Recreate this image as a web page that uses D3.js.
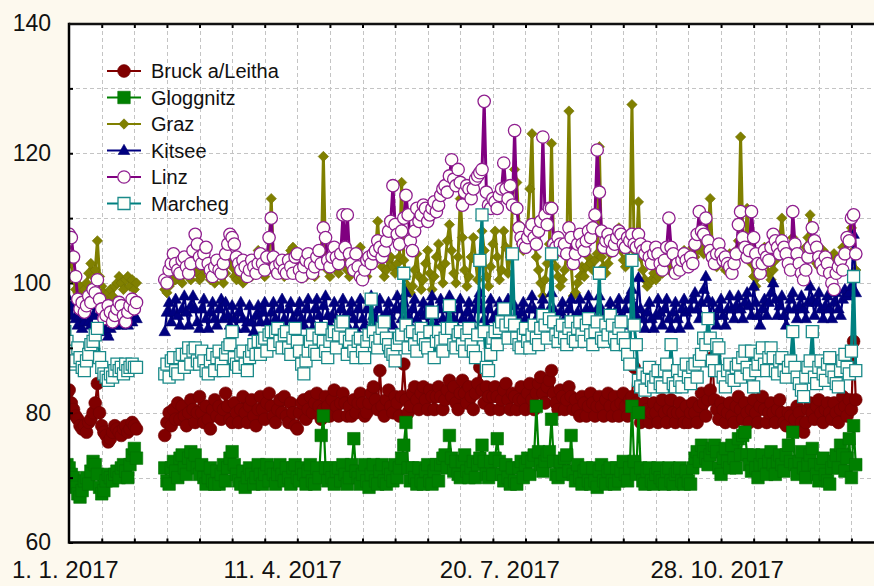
<!DOCTYPE html>
<html><head><meta charset="utf-8">
<script src="https://cdn.jsdelivr.net/npm/d3@7"></script>
<style>html,body{margin:0;padding:0;background:#fdf9ee;}svg{display:block;}</style>
</head><body><svg id="chart" width="874" height="586"></svg>
<script>
// ---------------- DATA ----------------
const seriesNames = ["Bruck a/Leitha", "Gloggnitz", "Graz", "Kitsee", "Linz", "Marcheg"];
const segmentStarts = ["2017-01-01", "2017-02-16"]; // daily values, gap 4.2.–15.2.
const yTickValues = [60, 70, 80, 90, 100, 110, 120, 130, 140];
const yLabelValues = [60, 80, 100, 120, 140];
const xLabelDates = ["2017-01-01", "2017-04-11", "2017-07-20", "2017-10-28"];
const gridStartDate = "2017-01-03";
const gridStepDays = 15;
const gridCount = 24;

const bruckA = [82.5,83,83.5,81.5,80.5,79.5,79,78,77.5,78, 77,78.5,79,80,81.5,84.5,80,78,77,76.5, 75.5,76,77,78,77.5,77,76.5,77.5,78,77, 77.5,78.5,78,77.5];
const bruckB = [
76.5,78.5,80,78,80.5,79,81.5,79,81,79.5,
78,80,82,80.5,78.5,80,82.5,80,78.5,81,
79,77.5,80.5,82,79.5,81,79,80.5,83,81,
79,78.5,81.5,80,78.5,80.5,82.5,80,78.5,81,
82,79.5,78,80.5,82.5,80.5,79,81.5,83,81,
79.5,78.5,80.5,82,80,82.5,79.5,78.5,81.5,80,
78,77.5,80,81.5,82,79,80.5,82.5,80,81.5,
83,81,79,80.5,82.5,81,79.5,82,83.5,81,
79.5,81.5,83,81.5,79.5,81,79.5,82,80,81.5,
83,81.5,79.5,80,81.5,83,84,82,80.5,86.5,
81,79.5,82,83.5,81,80,82.5,81.5,79.5,82.5,
87.5,82,80,81,83,84,82,80.5,83,84,
82,80.5,83.5,82.5,80.5,82.5,84,82.5,80.5,82,
83.5,85,82.5,84,81.5,80.5,83,85,83,81.5,
84,82.5,80.5,83,84.5,87,83.5,81.5,84,82.5,
80.5,82.5,84,82.5,80.5,82,83.5,84.5,82,80.5,
83,82.5,80.5,82,84,82,80.5,83,84.5,82,
80.5,83,84.5,85.5,83,81.5,84,85,86.5,83,
81.5,80.5,83.5,82.5,80.5,82,84,82.5,80.5,82,
80.5,79.5,82.5,81.5,79.5,81,83,81.5,79.5,81,
82.5,81,79.5,82,83,81,79.5,82.5,81,79.5,
81.5,83,81,79.5,82,82.5,87,81.5,80,78.5,
80,81.5,80.5,78.5,80,81.5,80,78.5,81,82,
80,78.5,80.5,82,80,78.5,80,81.5,80,78.5,
81,78.5,80,81.5,80,78.5,81,83,81.5,79.5,
82,83.5,88.5,82,80.5,79,81.5,80.5,78.5,80,
81.5,79.5,78.5,81,82.5,80.5,79,81.5,80,78.5,
80.5,82,80,78.5,81,82.5,80.5,78.5,80,81.5,
80,78.5,80.5,82,80,78.5,78,80,79.5,77.5,
79,81,80,78.5,77,78.5,80.5,81.5,80,79,
81,82,80,78.5,80.5,81.5,80,79,81.5,80,
78.5,80.5,82.5,81,79.5,82,80.5,91,82];

const gloggnitzA = [71,72,71.5,70.5,70,68.5,67.5,67,68,69.5, 70,69,71,72.5,72,70.5,68.5,67.5,68,69.5, 70.5,70,69.5,70.5,71,70,71.5,72,71,70, 72,73.5,74.5,73];
const gloggnitzB = [
71.5,69.5,69,71.5,72.5,71,70,73,73.5,71.5,
70.5,73,74,72,73.5,71.5,70.5,72,70,69,
70,71.5,69.5,69,71,69,70.5,72,69.5,71.5,
73,74,72,70.5,69.5,69,71,68.5,70,71.5,
70.5,69,70,72,70.5,69,70.5,72,69.5,71.5,
70.5,69,70.5,72,70.5,69.5,71.5,70,69,71.5,
72,70,69.5,71.5,70.5,69,71,72,69.5,69,
71.5,70,76.5,79.5,71.5,69.5,71.5,70,69,71,
71.5,69.5,72,70.5,69,70,72,76,71,70,
69,70.5,72,69.5,68.5,70.5,72,69.5,69,71,
72,69.5,69,71.5,70.5,69.5,72,70,71.5,73,
75,78.5,71.5,69.5,71.5,70,69,71.5,69.5,69,
71,72,69.5,69,71,72,69.5,72,73,73.5,
71.5,76.5,73,71,72.5,70.5,70,72.5,73.5,71,
70,71.5,72.5,70,72,73,75,72.5,70.5,70,
72.5,70.5,73,76,72.5,70.5,69.5,72,70,69,
71.5,69.5,69,71.5,72.5,70,72,73,70.5,72.5,
73.5,81,74,72,71,72.5,73.5,74,79,72.5,
70.5,70,72.5,70.5,73,73.5,71,76.5,70.5,69.5,
72,70,69,71,71.5,69.5,69,71.5,69.5,68.5,
71,72,69.5,69,71,71.5,69.5,69,71.5,69.5,
71,72.5,70.5,69.5,71.5,81,72.5,70.5,80,71.5,
69.5,69,71,71.5,69.5,69,70.5,71.5,70,69.5,
69,71,71.5,69.5,69,70.5,71,71.5,69.5,69,
71,69.5,69,71.5,73,74,72.5,75,74,73,
72,73.5,74.5,75,74,71.5,70.5,73,74.5,72.5,
71.5,75,73,71.5,76,73.5,76.5,77,73.5,72,
71,73.5,71.5,70,72,73.5,72,70.5,72.5,74,
72,70.5,72.5,73.5,72,71,73.5,75,72.5,77,
72,70.5,72.5,74,71.5,70,72,73.5,74.5,72,
70.5,69.5,72,73,70.5,69.5,69,71.5,72.5,73.5,
71.5,75,73.5,71,73,76,70,78,72];

const grazA = [103.5,104.5,105,103,100.5,99,98.5,99.5,98,99, 100,101.5,103,101,102,106.5,101,99.5,98.5,97.5, 98.5,99,98,99.5,100,101,100,99,100.5,101, 99.5,100.5,99,100];
const grazB = [
99,98.5,99.5,100,101,100.5,102,101,100,101.5,
102.5,101,100.5,102,103,101.5,100.5,101,102,103.5,
102,100.5,101,100,101.5,102.5,101,100,101.5,103,
104,102.5,101,100.5,102,101,100,101.5,103,102,
101,102.5,104,105,103.5,102,101,102.5,104,113,
103,101.5,102,103,102,101,102.5,104,105,105.5,
103.5,102,101.5,103,102,101,102.5,103.5,102,101,
102.5,104,103,119.5,103.5,102,101,102.5,103.5,102,
101.5,103,104.5,103,102,101,102.5,104,103,104.5,
105.5,103,102,101,102.5,104,103,105,109.5,104,
102.5,101,102,103.5,104,102.5,101.5,103,104,115.5,
103.5,101,99.5,98.5,99.5,102,104.5,101,99,100.5,
103,105,101.5,99,101,104,106,102.5,100,103,
106.5,109,105,101.5,100,104,113,107,102,99.5,
101,104,107,103.5,100.5,103,108,105,101,99.5,
102.5,106,108,104,100.5,102,108,105.5,101.5,104,
112,117.5,115.5,109,106,105,107,108.5,114.5,123,
107,104,102,100,98,100.5,103,106,121.5,104,
102.5,101,99.5,100.5,102,104.5,126.5,103,98,98.5,
100,101,102.5,101,102.5,104,103,102,103.5,104.5,
121,104,102.5,101.5,103,104.5,106,105,107,108.5,
105,103.5,102.5,104,105.5,127.5,105,104,112.5,104,
102,100.5,99.5,100,100.5,101.5,100.5,101,102,101.5,
102.5,103.5,102,103,104,103.5,102.5,103.5,104.5,105,
104,103,104.5,105.5,104,105,106,105.5,104.5,106,
107,113,105,103.5,102.5,103.5,104,103,102,103.5,
104.5,103,104,105,106.5,122.5,107,105,111.5,106,
103,101,99.5,101,102.5,104,105.5,103,101.5,100.5,
102,103.5,105,107,110,106,104,103,105,107,
106,104.5,103,102.5,104,105.5,107,110.5,106,104.5,
103,102.5,104,105,104,103,102,103.5,104.5,103.5,
102.5,104,105.5,104,106,107.5,108.5,105,102];

const kitseeA = [97.5,98,96.5,95,97,94.5,93.5,95,93,94, 95.5,94,93.5,95,96.5,97,95.5,94,93,92.5, 91.8,93,94.5,93.5,95,94,93.5,95,94.5,93.5, 95.5,94,95,94.5];
const kitseeB = [
92.5,95.5,97,94,95.5,97.5,95,93.5,96,98,
95.5,93.5,96.5,98,96,94,93,96,97.5,94.5,
93,95.5,97,94.5,93.5,96,97.5,94.5,97,95,
93.5,96.5,94.5,93,95.5,97,94.5,93,94,96.5,
94,92.5,95,96.5,94,95.5,97,94,92.5,95.5,
97,94.5,93,96,97.5,94.5,93,96,97,94.5,
93,95.5,97,94.5,93.5,96,97.5,94.5,93,96,
97.5,95,93.5,96.5,98,95,93.5,95,97,94.5,
93,96,97.5,95,93.5,95.5,97,94.5,93,96,
97.5,94.5,93.5,96,97.5,98,95,93.5,96,97.5,
94.5,93,95.5,97,95,93.5,96,98,96,94.5,
97,98.5,95,93.5,96,97.5,94.5,93,95.5,97,
95,93.5,96.5,98,95,93.5,96,97.5,94.5,93,
96,98,96,94.5,93.5,96,97.5,94.5,93,95.5,
97,94.5,93,96,97.5,98.5,96,94.5,93.5,96,
97.5,94.5,93,95.5,97,95,93.5,96,97.5,94.5,
93.5,96.5,95,93,95.5,97,94.5,93,96,98,
96,94.5,93.5,96,97.5,94.5,93,96,98.5,96,
94.5,93,95.5,97,94.5,93,96,97.5,94.5,93,
95.5,97.5,95,93.5,96,98,96,94.5,93.5,96,
98,96,94.5,93,95.5,97,94.5,93.5,96,97.5,
95,93.5,96,97.5,98,99,96.5,95,100.8,96,
94.5,93,95.5,97,94.5,93,95,97.5,95.5,93.5,
96,97.5,94.5,93,95.5,97,94.5,93,96,97.5,
95.5,93.5,96,97.5,98.5,96,94.5,97,99,101,
97.5,95,97,95,93.5,96,97.5,95,93.5,96,
98,96,94.5,96.5,98,96,94.5,97,98.5,96.5,
95,99.5,97,95,93.5,96,97.5,95,97,98.5,
100,97.5,95,96.5,98,95,93.5,96,97.5,98.5,
96,94.5,96.5,98,96,94.5,97,99.5,97.5,95,
97,98.5,96,94.5,96.5,98,96,94.5,97,98.5,
96,95,97.5,99,98,98.5,99.5,107.5,98.5];

const linzA = [105,106.5,107.5,107,104,101,97.5,96,97,95.5, 96.5,98,97,99,98.5,100.5,97.5,96,94.5,95, 96.5,95.5,94,95,96,97,96.5,95,94,95.5, 96.5,97.5,96,97];
const linzB = [
100.5,100,102,103,104.5,103,102,101.5,103.5,104,
102.5,101.5,103,105,107.5,106,104,103,104.5,105.5,
103,102,101,102.5,103.5,102,101.5,103,104.5,106,
107.5,107,106,104,103,102,103.5,102.5,101,102,
103.5,102.5,101.5,103,104.5,103,102,104,107,110,
104,102.5,101.5,103,103.5,102,101.5,103.5,102.5,101.5,
104,104.5,102,101,102.5,103.5,104.5,103,101.5,102.5,
104,105,103,108.5,107,103.5,102.5,104,105.5,104,
103,104.5,110.5,105.5,110.5,104.5,103,102,104.5,102.5,
101,100.5,102,103.5,104,103,104.5,105,106.5,105.5,
104,105,106.5,108,109.5,115,109,107.5,106,108,
110,113.5,110.5,106.5,105,108,111.5,109.5,110.5,112,
111.5,109.5,110.5,111.5,112.5,111,112,113.5,114.5,115,
114,116.5,119,116,115,117.5,115.5,112,114,115,
114.5,113,114.5,116,116.5,117,117.5,128,114,112,
111.5,113,112.5,111.5,113.5,114.5,118.5,114.5,113,115,
112,123.5,111.5,108.5,107,106,105.5,107,108,109,
107,106,108,109.5,122.5,110.5,109,111.5,111.5,106,
105.5,107,106,105,106,104.5,108.5,107,103,104.5,
106,107.5,106,105,106.5,108,107,108.5,110.5,120.5,
114,108,105.5,106.5,107.5,106.5,105,106,107,108,
107.5,106,105.5,107,106.5,107.5,106,105.5,107.5,106,
105,104.5,105.5,104,103,104.5,105.5,104.5,103,102,
103.5,105.5,110,105.5,104.5,101.5,103,102,103.5,104.5,
103.5,102.5,104,103,106,107.5,111,108,107.5,110,
106.5,105,104,103,104.5,106,104.5,103.5,104,103,
102.5,101.5,103,104.5,109,111,107,105.5,104,105,
111,107,104.5,103,101.5,103,105,104,103.5,105.5,
107.5,106.5,105.5,104.5,106.5,105.5,104.5,103,102,111,
106,104.5,103,101.5,100.5,102,104,105.5,108.5,106.5,
105.5,104,103,102,104,103,101.5,100,99,101.5,
102.5,103.5,102,104.5,107,106.5,110,110.5,104.5];

const marchegA = [92.5,91,89.5,89,87.5,88,90,88.5,87,86.5, 88,89,90.5,91,92,93,88.5,87,86,85.5, 85,86,85.5,86.5,87.5,86.5,87,86,87.5,86.5, 87,87.5,87,87];
const marchegB = [
86,87.5,85.5,88,88.5,86.5,86,88.5,89,87,
89,90,87.5,89.5,90,88,87.5,89.5,88,86.5,
86,88,89,86.5,88.5,89.5,87.5,86.5,89,90,
90.5,92.5,88.5,87.5,87,89,89.5,87.5,86.5,88.5,
89.5,90.5,89,91,89,91,91.5,89.5,92,92.5,
90.5,92.5,93,91,90,92,92.5,90,89,91.5,
93,91,89.5,87.5,86,88,89.5,91,92,89.5,
89,91.5,93,91,89.5,88.5,91,92,92.5,90,
92,93.5,94,91.5,89,91,92,89.5,88.5,91,
91.5,89.5,88.5,91,92,97.5,92.5,91,90,91.5,
93,94,91.5,90.5,89.5,89,88,90.5,91.5,92,
101.5,93.5,90,92,92.5,90.5,89.5,92,93,91.5,
90.5,90,92.5,95.5,88.5,91,92.5,91,89.5,91.5,
93,96.5,93,90.5,90,92,92.5,90.5,89.5,92,
93,90.5,89.5,88.5,92,103.5,110.5,92.5,87,86.5,
89,91.5,92.5,90.5,93,94,96,93.5,91.5,94,
104.5,93.5,91.5,90.5,90,92,93,91,90,92,
93.5,91.5,90.5,93,95,93.5,91.5,94.5,104.5,94,
92,91,92.5,93.5,91.5,90.5,93,94,91.5,91,
93,94,92,91,93.5,94.5,92,90.5,92.5,94,
101.5,91.5,91,93.5,92,95,93.5,91.5,90.5,93,
94,91.5,90.5,89,87.5,103.5,93.5,90.5,85,84,
86,83.5,85.5,87,85,84,85.5,86.5,84.5,84,
86.5,87.5,85.5,90.5,84.5,84,86.5,85,84,86.5,
87.5,85.5,84.5,87,87.5,85.5,88,89,91.5,90.5,
94.5,91.5,88,86.5,90.5,90,86.5,85.5,84,86.5,
87.5,85.5,85,87,87.5,85.5,88.5,89.5,87,86,
89.5,84,86.5,87.5,89,90,87.5,86.5,88.5,90,
88.5,86.5,86,88,88.5,86.5,85.5,87,88,92.5,
87,85.5,84.5,83.5,82.5,85.5,87,88,92.5,85.5,
84.5,87,88,86,85,87.5,88.5,86.5,85.5,84.5,
84,86.5,88,89,87,86,89.5,101,86.5];

// ---------------- DRAWING ----------------
const W = 874, H = 586;
const plot = {left: 69, top: 24, right: 874, bottom: 542.5};
const parse = d3.utcParse("%Y-%m-%d");
const fmt = d3.utcFormat("%-d. %-m. %Y");

const x = d3.scaleUtc()
  .domain([parse("2017-01-01"), parse("2018-01-01")])
  .range([64.8, 64.8 + 2.173 * 365]);
const y = d3.scaleLinear().domain([60, 140]).range([542.5, 23.5]);

const seriesData = [
  [bruckA, bruckB], [gloggnitzA, gloggnitzB], [grazA, grazB],
  [kitseeA, kitseeB], [linzA, linzB], [marchegA, marchegB]
];

const diamondPath = "M0,-5.2L5.2,0L0,5.2L-5.2,0Z";
const trianglePath = "M0,-6.2L5.8,4L-5.8,4Z";
const styles = [
  {line: "#800000", lw: 2.2, sym: d3.symbol(d3.symbolCircle, Math.PI * 6.4 * 6.4)(), fill: "#800000", stroke: "#700000", sw: 0.6},
  {line: "#008000", lw: 2.2, sym: d3.symbol(d3.symbolSquare, 12.5 * 12.5)(), fill: "#008000", stroke: "#007000", sw: 0.6},
  {line: "#808000", lw: 3, sym: diamondPath, fill: "#808000", stroke: "#707000", sw: 0.6},
  {line: "#000080", lw: 2.2, sym: trianglePath, fill: "#000080", stroke: "#000070", sw: 0.6},
  {line: "#800080", lw: 3, sym: d3.symbol(d3.symbolCircle, Math.PI * 6.2 * 6.2)(), fill: "#fffffa", stroke: "#8f1f8f", sw: 1.3},
  {line: "#008080", lw: 3, sym: d3.symbol(d3.symbolSquare, 12 * 12)(), fill: "#fffffa", stroke: "#1a8a8a", sw: 1.3}
];

const svg = d3.select("#chart");
svg.append("rect").attr("width", W).attr("height", H).attr("fill", "#fdf9ee");
svg.append("rect").attr("x", plot.left).attr("y", plot.top)
  .attr("width", plot.right - plot.left).attr("height", plot.bottom - plot.top).attr("fill", "#ffffff");

svg.append("defs").append("clipPath").attr("id", "clip").append("rect")
  .attr("x", plot.left + 1).attr("y", plot.top).attr("width", plot.right - plot.left).attr("height", plot.bottom - plot.top);

// grid
const gridDates = d3.range(1, gridCount + 1).map(k => d3.utcDay.offset(parse(gridStartDate), k * gridStepDays));
const grid = svg.append("g").attr("stroke", "#c4c4c4").attr("stroke-width", 1).attr("stroke-dasharray", "4,3");
grid.selectAll("line.v").data(gridDates).join("line").attr("class", "v")
  .attr("x1", d => Math.round(x(d)) + 0.5).attr("x2", d => Math.round(x(d)) + 0.5)
  .attr("y1", plot.top).attr("y2", plot.bottom);
grid.selectAll("line.h").data(yTickValues.filter(v => v > 60 && v < 140)).join("line").attr("class", "h")
  .attr("x1", plot.left).attr("x2", plot.right)
  .attr("y1", d => Math.round(y(d)) + 0.5).attr("y2", d => Math.round(y(d)) + 0.5);

// series
const dataG = svg.append("g").attr("clip-path", "url(#clip)");
const line = d3.line().x(d => x(d.date)).y(d => y(d.v));
seriesData.forEach((segs, si) => {
  const st = styles[si];
  const g = dataG.append("g");
  const allPts = [];
  segs.forEach((vals, k) => {
    const start = parse(segmentStarts[k]);
    const pts = vals.map((v, i) => ({date: d3.utcDay.offset(start, i), v}));
    allPts.push(...pts);
    g.append("path").attr("d", line(pts)).attr("fill", "none")
      .attr("stroke", st.line).attr("stroke-width", st.lw).attr("stroke-linejoin", "round");
  });
  g.selectAll("path.m").data(allPts).join("path").attr("class", "m")
    .attr("transform", d => `translate(${x(d.date)},${y(d.v)})`)
    .attr("d", st.sym).attr("fill", st.fill).attr("stroke", st.stroke).attr("stroke-width", st.sw);
});

// axes
const fontFam = "'Liberation Sans', Arial, sans-serif";
const yAxis = svg.append("g").attr("transform", `translate(${plot.left},0)`)
  .call(d3.axisLeft(y).tickValues(yTickValues).tickSize(-4).tickPadding(18)
    .tickFormat(d => yLabelValues.includes(d) ? d : ""));
yAxis.select(".domain").remove();
yAxis.selectAll(".tick line").attr("stroke", "#000").attr("stroke-width", 2);
yAxis.selectAll("text").attr("font-family", fontFam).attr("font-size", 23).attr("fill", "#111");

const xAxisB = svg.append("g").attr("transform", `translate(0,${plot.bottom})`)
  .call(d3.axisBottom(x).tickValues(gridDates).tickSize(-4).tickFormat(""));
xAxisB.select(".domain").remove();
xAxisB.selectAll(".tick line").attr("stroke", "#000").attr("stroke-width", 2);

const xLabels = svg.append("g").attr("transform", `translate(0,${plot.bottom})`)
  .call(d3.axisBottom(x).tickValues(xLabelDates.map(parse)).tickSize(0).tickPadding(18).tickFormat(fmt));
xLabels.select(".domain").remove();
xLabels.selectAll("text").attr("font-family", fontFam).attr("font-size", 24).attr("fill", "#111");

const xAxisT = svg.append("g").attr("transform", `translate(0,${plot.top})`)
  .call(d3.axisTop(x).tickValues(gridDates).tickSize(-4).tickFormat(""));
xAxisT.select(".domain").remove();
xAxisT.selectAll(".tick line").attr("stroke", "#000").attr("stroke-width", 2);

// frame lines
svg.append("line").attr("x1", plot.left).attr("x2", plot.left).attr("y1", plot.top - 1.2).attr("y2", plot.bottom + 1.2)
  .attr("stroke", "#000").attr("stroke-width", 2.5);
svg.append("line").attr("x1", plot.left).attr("x2", plot.right).attr("y1", plot.bottom).attr("y2", plot.bottom)
  .attr("stroke", "#000").attr("stroke-width", 2.5);
svg.append("line").attr("x1", plot.left).attr("x2", plot.right).attr("y1", plot.top).attr("y2", plot.top)
  .attr("stroke", "#111").attr("stroke-width", 2.5);

// legend
const legend = svg.append("g");
const legendY = d3.scaleLinear().domain([0, 5]).range([71, 203.5]);
seriesNames.forEach((name, i) => {
  const st = styles[i];
  const ly = legendY(i);
  legend.append("line").attr("x1", 107).attr("x2", 141).attr("y1", ly).attr("y2", ly)
    .attr("stroke", st.line).attr("stroke-width", 2.2);
  legend.append("path").attr("transform", `translate(124,${ly})`).attr("d", st.sym)
    .attr("fill", st.fill).attr("stroke", st.stroke).attr("stroke-width", st.sw);
  legend.append("text").attr("x", 151).attr("y", ly).attr("dy", "0.36em")
    .attr("font-family", fontFam).attr("font-size", 20).attr("fill", "#111").text(name);
});
</script>
</body></html>
